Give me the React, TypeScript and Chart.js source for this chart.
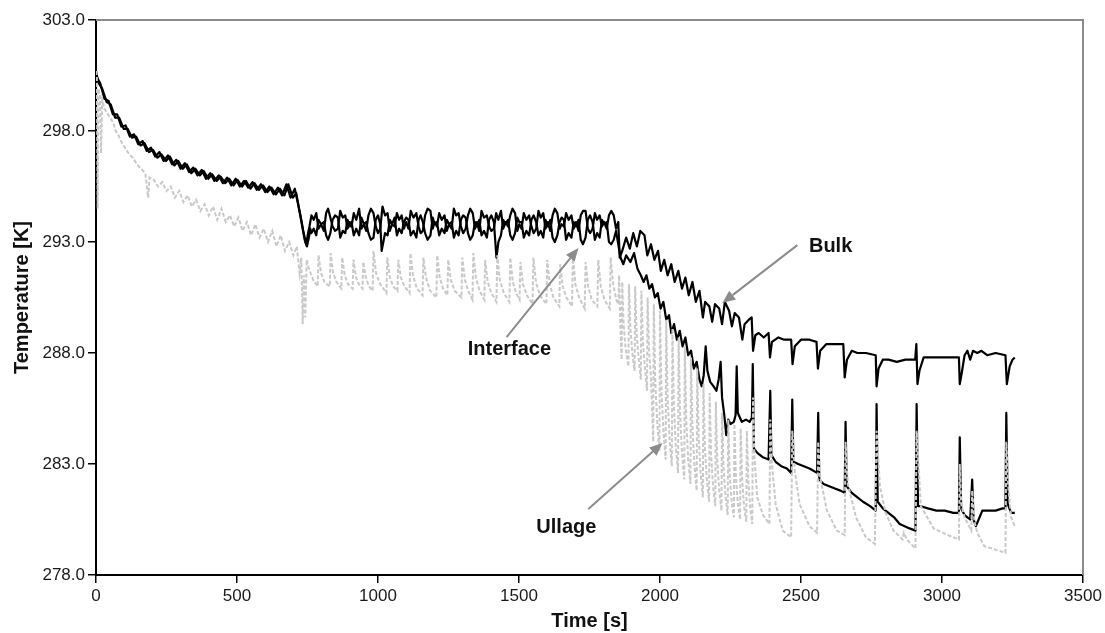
import React, { useEffect, useRef } from "react";
import { Chart, registerables } from "chart.js";

Chart.register(...registerables);

// Axis settings
const xTickStep = 500;
const xRange = [0, 3500];
const yTickStep = 5;
const yRange = [278, 303];

// [time s, temperature K]
const bulkData: [number, number][] = [
  [0,300.5],[15,300.15],[30,299.45],[45,299.35],[60,298.75],[75,298.75],[90,298.2],[105,298.25],[120,297.75],[135,297.85],
  [150,297.4],[165,297.55],[180,297.1],[195,297.25],[210,296.85],[225,297.05],[240,296.65],[255,296.9],[270,296.5],[285,296.7],
  [300,296.3],[315,296.55],[330,296.15],[345,296.35],[360,296.0],[375,296.25],[390,295.85],[405,296.1],[420,295.75],[435,296.0],
  [450,295.65],[465,295.9],[480,295.55],[495,295.85],[510,295.5],[525,295.75],[540,295.45],[555,295.7],[570,295.35],[585,295.6],
  [600,295.25],[615,295.5],[630,295.15],[645,295.45],[660,295.1],[675,295.6],[690,295.0],[705,295.4],[715,294.8],[725,294.2],
  [735,293.5],[745,292.9],[752,293.4],[757,293.7],
  [764,294.2],[772,294.0],[781,294.3],[789,293.6],[798,293.8],[808,293.5],[816,294.3],[823,294.5],[831,294.1],
  [839,293.7],[848,293.5],[858,293.6],[866,294.4],[875,294.1],[884,294.2],[892,293.6],[899,293.9],[906,293.7],
  [914,294.3],[923,294.0],[933,294.5],[941,293.6],[950,293.8],[958,293.5],[966,294.2],[975,294.5],[984,294.3],
  [992,293.7],[1000,293.4],[1008,293.6],[1016,294.6],[1025,294.2],[1034,294.3],[1042,293.5],[1050,293.8],[1059,293.7],
  [1067,294.3],[1075,294.0],[1084,294.2],[1092,293.6],[1100,293.9],[1108,293.6],[1116,294.4],[1126,294.1],[1136,294.3],
  [1144,293.7],[1151,293.4],[1159,293.5],[1167,294.2],[1176,294.5],[1186,294.4],[1194,293.6],[1201,293.9],[1209,293.7],
  [1217,294.3],[1226,294.0],[1236,294.2],[1244,293.5],[1252,293.8],[1261,293.6],[1269,294.5],[1277,294.2],[1286,294.3],
  [1294,293.7],[1302,293.4],[1311,293.6],[1319,294.2],[1327,294.5],[1336,294.3],[1344,293.6],[1351,293.9],[1359,293.5],
  [1367,294.4],[1376,294.1],[1386,294.2],[1394,293.7],[1402,293.5],[1411,293.6],[1419,294.3],[1427,294.0],[1436,294.4],
  [1444,293.6],[1452,293.9],[1461,293.7],[1469,294.2],[1477,294.5],[1486,294.3],[1494,293.5],[1501,293.8],[1509,293.6],
  [1517,294.3],[1526,294.0],[1536,294.2],[1544,293.7],[1552,293.4],[1561,293.6],[1569,294.4],[1577,294.1],[1586,294.3],
  [1594,293.6],[1602,293.9],[1611,293.5],[1619,294.2],[1627,294.5],[1636,294.3],[1644,293.6],[1651,293.8],[1659,293.7],
  [1667,294.3],[1676,294.0],[1686,294.2],[1694,293.6],[1702,293.9],[1711,293.5],[1719,294.2],[1727,294.4],[1736,294.4],
  [1744,293.6],[1752,293.4],[1761,293.6],[1769,294.3],[1777,294.0],[1786,294.2],[1794,293.7],[1802,293.9],[1811,293.6],
  [1819,294.2],[1827,294.4],[1836,294.2],[1844,293.6],
  [1852,293.9],[1857,292.3],[1866,292.6],[1880,293.2],[1893,292.7],[1905,293.4],[1918,292.8],[1930,293.5],[1945,293.3],[1955,292.4],
  [1968,292.9],[1980,292.2],[1993,292.6],[2003,291.7],[2015,292.2],[2027,291.5],[2040,292.0],[2052,291.2],[2065,291.7],[2078,290.9],
  [2090,291.4],[2102,290.6],[2115,291.2],[2127,290.3],[2140,290.8],[2152,289.6],[2160,290.3],[2175,290.1],[2185,289.4],[2195,290.2],
  [2210,290.0],[2220,289.3],[2230,290.3],[2245,289.9],[2255,289.2],[2265,289.8],[2280,289.6],[2292,288.6],[2300,289.3],[2315,289.5],
  [2325,289.6],[2330,288.1],[2338,288.8],[2350,288.9],[2368,288.7],[2385,288.9],[2390,287.8],[2397,288.5],[2420,288.7],[2440,288.6],
  [2465,288.6],[2470,287.5],[2478,288.3],[2500,288.6],[2530,288.6],[2555,288.5],[2560,287.3],[2568,288.1],[2590,288.4],[2620,288.4],
  [2650,288.4],[2655,286.9],[2663,287.7],[2680,288.1],[2700,288.0],[2730,288.0],[2765,287.9],[2768,286.5],[2775,287.3],[2790,287.7],
  [2810,287.7],[2840,287.6],[2870,287.7],[2905,287.7],[2909,288.4],[2913,286.6],[2920,287.2],[2935,287.8],[2970,287.8],[3000,287.8],
  [3040,287.8],[3060,287.8],[3063,286.6],[3070,287.1],[3080,287.9],[3090,288.1],[3100,287.7],[3110,288.1],[3125,288.0],[3140,288.1],
  [3160,287.9],[3190,288.0],[3225,287.9],[3230,286.6],[3240,287.4],[3250,287.7],[3258,287.8],
];

const interfaceData: [number, number][] = [
  [0,300.7],[8,300.2],[22,299.9],[38,299.3],[52,299.2],[68,298.6],[82,298.6],[98,298.1],[112,298.1],[128,297.7],
  [142,297.75],[158,297.35],[172,297.45],[188,297.05],[202,297.15],[218,296.8],[232,296.95],[248,296.65],[262,296.85],[278,296.45],
  [292,296.65],[308,296.3],[322,296.5],[338,296.1],[352,296.3],[368,296.0],[382,296.2],[398,295.85],[412,296.05],[428,295.75],
  [442,295.95],[458,295.65],[472,295.85],[488,295.55],[502,295.8],[518,295.5],[532,295.75],[548,295.4],[562,295.65],[578,295.35],
  [592,295.55],[608,295.25],[622,295.45],[638,295.15],[652,295.4],[668,295.1],[682,295.6],[698,295.0],[710,295.2],[720,294.5],
  [730,293.8],[740,293.1],[748,292.8],[755,293.2],[760,293.6],
  [764,293.4],[772,293.6],[781,293.3],[789,294.0],[798,293.8],[808,293.9],[816,293.3],[823,293.1],[831,293.4],
  [839,294.0],[848,294.2],[858,294.1],[866,293.2],[875,293.5],[884,293.4],[892,294.0],[899,293.7],[906,293.9],
  [914,293.3],[923,293.6],[933,293.3],[941,294.1],[950,293.8],[958,293.9],[966,293.4],[975,293.1],[984,293.2],
  [992,294.0],[1000,294.2],[1008,293.8],[1013,292.6],[1025,293.4],[1034,293.3],[1042,294.0],[1050,293.8],[1059,294.1],
  [1067,293.3],[1075,293.6],[1084,293.4],[1092,293.9],[1100,294.1],[1108,294.0],[1116,293.3],[1126,293.5],[1136,293.2],
  [1144,294.0],[1151,294.2],[1159,293.9],[1167,293.4],[1176,293.1],[1186,293.3],[1194,294.1],[1201,293.8],[1209,293.9],
  [1217,293.3],[1226,293.6],[1236,293.4],[1244,294.0],[1252,293.8],[1261,293.9],[1269,293.2],[1277,293.5],[1286,293.3],
  [1294,294.0],[1302,294.2],[1311,294.1],[1319,293.4],[1327,293.1],[1336,293.3],[1344,293.9],[1351,293.7],[1359,294.0],
  [1367,293.3],[1376,293.5],[1386,293.2],[1394,294.0],[1402,294.2],[1411,293.9],[1420,292.3],[1427,293.0],[1436,293.3],
  [1444,294.0],[1452,293.8],[1461,294.0],[1469,293.3],[1477,293.1],[1486,293.4],[1494,294.1],[1501,293.9],[1509,293.9],
  [1517,293.2],[1526,293.5],[1536,293.3],[1544,294.0],[1552,294.2],[1561,293.9],[1569,293.3],[1577,293.5],[1586,293.2],
  [1594,294.0],[1602,293.7],[1611,294.0],[1619,293.2],[1627,293.0],[1636,293.3],[1644,293.9],[1651,294.1],[1659,294.0],
  [1667,293.1],[1676,293.4],[1686,293.2],[1694,293.9],[1702,293.7],[1711,294.0],[1719,293.1],[1727,292.9],[1736,293.2],
  [1744,294.0],[1752,294.2],[1761,293.9],[1769,293.1],[1777,293.4],[1786,293.2],[1794,294.0],[1802,293.8],[1811,293.9],
  [1819,293.0],[1827,292.9],[1836,293.1],[1844,293.5],
  [1852,292.9],[1860,292.3],[1870,292.0],[1880,292.4],[1895,292.1],[1908,292.5],[1920,291.8],[1932,291.5],[1942,291.2],[1952,291.5],
  [1962,290.9],[1972,291.1],[1982,290.5],[1992,290.7],[2002,290.0],[2012,290.3],[2022,289.5],[2032,289.7],[2040,288.9],[2050,289.3],
  [2060,288.6],[2070,289.0],[2080,288.3],[2090,288.7],[2100,287.9],[2110,288.1],[2120,287.3],[2130,287.6],[2140,286.8],[2148,286.5],
  [2155,287.0],[2162,288.3],[2168,287.2],[2178,286.7],[2190,286.5],[2200,286.3],[2208,286.8],[2215,287.6],[2220,286.0],[2228,285.2],
  [2235,284.3],[2242,285.0],[2250,284.8],[2262,284.9],[2268,285.2],[2272,287.4],[2276,285.3],[2290,284.9],[2305,285.0],[2318,284.9],
  [2326,285.1],[2329,287.5],[2333,283.7],[2345,283.5],[2365,283.3],[2385,283.2],[2391,286.3],[2395,283.4],[2410,283.1],[2430,282.9],
  [2450,282.8],[2465,282.6],[2469,285.9],[2473,283.1],[2490,283.0],[2510,282.9],[2530,282.8],[2557,282.6],[2561,285.3],[2565,282.3],
  [2580,282.1],[2600,282.0],[2620,281.9],[2640,281.8],[2655,281.7],[2658,284.9],[2662,282.0],[2680,281.7],[2700,281.5],[2720,281.3],
  [2745,281.1],[2765,280.9],[2768,285.7],[2772,281.3],[2790,281.0],[2810,280.8],[2830,280.6],[2850,280.3],[2885,280.1],[2906,280.0],
  [2910,285.7],[2915,281.1],[2925,281.1],[2950,281.0],[2980,280.9],[3010,280.9],[3040,280.8],[3060,280.8],[3063,284.2],[3068,281.0],
  [3080,280.7],[3090,280.6],[3100,280.5],[3107,282.3],[3112,280.5],[3120,280.2],[3130,280.5],[3143,280.9],[3160,280.9],[3190,280.9],
  [3215,281.0],[3225,281.0],[3228,285.3],[3233,281.2],[3245,280.8],[3258,280.8],
];

const ullageData: [number, number][] = [
  [0,300.7],[3,300.4],[6,294.5],[9,299.9],[14,299.6],[18,297.0],[22,299.4],[30,299.0],[40,298.8],[50,298.6],
  [60,298.4],[70,298.0],[80,297.8],[90,297.5],[100,297.3],[115,297.0],[130,296.8],[145,296.5],[160,296.3],[175,296.1],
  [185,295.0],[190,295.9],[205,295.8],[220,295.5],[235,295.7],[250,295.3],[265,295.5],[280,295.0],[295,295.3],[310,294.8],
  [325,295.1],[340,294.6],[355,294.9],[370,294.4],[385,294.7],[400,294.2],[415,294.6],[430,294.0],[445,294.5],[460,293.9],
  [475,294.2],[490,293.7],[505,294.1],[520,293.5],[535,293.9],[550,293.3],[565,293.8],[580,293.2],[595,293.6],[610,293.0],
  [625,293.5],[640,292.8],[655,293.3],[670,292.6],[685,293.0],[700,292.4],[712,292.8],[722,291.6],[728,292.3],[733,289.3],
  [737,291.5],[742,289.6],[747,292.2],
  [755,291.8],[770,291.3],[786,291.0],[789,292.4],[798,291.6],[810,291.2],[829,291.0],[832,292.5],[841,291.6],[853,291.2],
  [870,290.9],[873,292.3],[882,291.5],[894,291.1],[910,290.9],[913,292.2],[922,291.4],[932,291.1],[945,290.9],[948,292.1],
  [957,291.4],[968,291.0],[981,290.8],[984,292.6],[993,291.6],[1008,291.1],[1030,290.7],[1033,292.3],[1042,291.4],[1054,291.0],
  [1069,290.8],[1072,292.2],[1081,291.4],[1094,291.0],[1112,290.7],[1115,292.5],[1124,291.5],[1138,290.9],[1158,290.6],[1161,292.3],
  [1170,291.4],[1185,290.8],[1207,290.5],[1210,292.4],[1219,291.4],[1231,290.9],[1246,290.6],[1249,292.2],[1258,291.3],[1272,290.8],
  [1296,290.5],[1299,292.3],[1308,291.3],[1320,290.8],[1335,290.4],[1338,292.5],[1347,291.4],[1360,290.8],[1377,290.4],[1380,292.2],
  [1389,291.2],[1402,290.7],[1420,290.3],[1423,292.4],[1432,291.3],[1446,290.7],[1466,290.3],[1469,292.3],[1478,291.2],[1490,290.7],
  [1502,290.4],[1505,292.1],[1514,291.1],[1528,290.6],[1548,290.2],[1551,292.3],[1560,291.2],[1574,290.6],[1597,290.2],[1600,292.2],
  [1609,291.1],[1622,290.5],[1643,290.1],[1646,292.0],[1655,291.0],[1668,290.5],[1688,290.1],[1691,292.4],[1700,291.1],[1713,290.5],
  [1733,290.0],[1736,292.1],[1745,291.0],[1758,290.4],[1778,290.1],[1781,292.2],[1790,291.0],[1803,290.4],[1822,290.0],[1825,292.3],
  [1834,291.1],[1845,290.4],[1852,290.2],[1855,291.5],[1860,289.0],[1864,287.7],
  [1866,291.2],[1871,289.3],[1878,288.2],[1888,287.4],[1890,291.1],[1895,289.1],[1902,288.0],[1910,287.2],[1912,291.0],[1917,288.9],
  [1924,287.8],[1932,286.8],[1934,290.8],[1939,288.6],[1946,287.4],[1954,286.3],[1956,290.5],[1961,288.2],[1968,286.9],[1976,284.0],
  [1978,290.2],[1983,286.8],[1990,284.9],[1998,283.6],[2000,289.9],[2005,286.4],[2012,284.5],[2020,283.2],[2022,289.5],[2027,286.0],
  [2034,284.1],[2042,282.9],[2044,289.1],[2049,285.7],[2056,283.8],[2064,282.6],[2066,288.7],[2071,285.3],[2078,283.5],[2086,282.3],
  [2088,288.3],[2093,285.0],[2100,283.2],[2108,282.1],[2110,287.8],[2115,284.7],[2122,282.9],[2130,281.8],[2132,287.3],[2137,284.3],
  [2144,282.6],[2152,281.5],[2154,286.6],[2159,283.8],[2166,282.3],[2174,281.3],[2176,286.2],[2181,283.5],[2188,282.0],[2196,281.1],
  [2198,285.8],[2203,283.2],[2210,281.8],[2218,280.9],[2220,285.3],[2225,282.9],[2232,281.6],[2240,280.7],[2242,285.0],[2247,282.6],
  [2254,281.3],[2262,280.6],[2264,284.8],[2269,282.5],[2276,281.2],[2284,280.5],[2286,284.6],[2291,282.4],[2298,281.1],[2306,280.4],
  [2308,284.5],[2313,282.3],[2320,281.0],[2327,280.3],[2330,286.0],[2335,283.3],[2345,281.5],[2365,280.7],[2388,280.3],[2391,285.0],
  [2397,283.0],[2410,281.2],[2435,280.0],[2465,279.7],[2469,284.5],[2478,282.7],[2495,281.2],[2530,280.2],[2557,279.9],[2561,284.0],
  [2568,282.4],[2592,280.9],[2627,280.0],[2655,279.8],[2658,284.0],[2666,282.1],[2695,280.6],[2730,279.7],[2762,279.4],[2768,284.5],
  [2780,282.0],[2800,280.8],[2828,280.0],[2860,279.6],[2865,279.9],[2875,279.6],[2906,279.2],[2910,284.5],[2925,281.1],[2970,280.1],
  [3020,279.8],[3060,279.6],[3063,283.0],[3068,281.2],[3080,280.6],[3104,280.0],[3107,281.8],[3115,280.4],[3125,279.9],[3150,279.3],
  [3200,279.1],[3225,279.0],[3228,284.0],[3235,282.0],[3245,280.6],[3258,280.2],
];

// Annotation labels: text baseline position, arrow tail, arrow head (data coords)
const annotationLabels = ["Bulk", "Interface", "Ullage"];
const annotationText: [number, number][] = [[2605, 292.55], [1466, 287.91], [1668, 279.89]];
const annotationTail: [number, number][] = [[2487, 292.86], [1456, 288.72], [1746, 280.97]];
const annotationHead: [number, number][] = [[2221, 290.25], [1711, 292.73], [2009, 283.95]];

const FONT = "'Liberation Sans', Arial, Helvetica, sans-serif";

const frameAndNotes = {
  id: "frameAndNotes",
  afterDatasetsDraw(chart: any) {
    const { ctx, chartArea, scales } = chart;
    ctx.save();
    // gray top and right frame
    ctx.strokeStyle = "#8c8c8c";
    ctx.lineWidth = 2;
    ctx.beginPath();
    ctx.moveTo(chartArea.left, chartArea.top);
    ctx.lineTo(chartArea.right, chartArea.top);
    ctx.lineTo(chartArea.right, chartArea.bottom);
    ctx.stroke();

    annotationLabels.forEach((label, i) => {
      const tx = scales.x.getPixelForValue(annotationTail[i][0]);
      const ty = scales.y.getPixelForValue(annotationTail[i][1]);
      const hx = scales.x.getPixelForValue(annotationHead[i][0]);
      const hy = scales.y.getPixelForValue(annotationHead[i][1]);
      const ang = Math.atan2(hy - ty, hx - tx);
      const headLen = 13;
      const headHalf = 5.5;
      const bx = hx - headLen * Math.cos(ang);
      const by = hy - headLen * Math.sin(ang);
      ctx.strokeStyle = "#8c8c8c";
      ctx.fillStyle = "#8c8c8c";
      ctx.lineWidth = 2;
      ctx.beginPath();
      ctx.moveTo(tx, ty);
      ctx.lineTo(bx, by);
      ctx.stroke();
      ctx.beginPath();
      ctx.moveTo(hx, hy);
      ctx.lineTo(bx + headHalf * Math.sin(ang), by - headHalf * Math.cos(ang));
      ctx.lineTo(bx - headHalf * Math.sin(ang), by + headHalf * Math.cos(ang));
      ctx.closePath();
      ctx.fill();

      const px = scales.x.getPixelForValue(annotationText[i][0]);
      const py = scales.y.getPixelForValue(annotationText[i][1]);
      ctx.fillStyle = "#111111";
      ctx.font = `bold 20px ${FONT}`;
      ctx.textAlign = "center";
      ctx.textBaseline = "alphabetic";
      ctx.fillText(label, px, py);
    });
    ctx.restore();
  },
};

export default function App() {
  const canvasRef = useRef<HTMLCanvasElement | null>(null);

  useEffect(() => {
    const canvas = canvasRef.current;
    if (!canvas) return;
    const toPts = (arr: [number, number][]) => arr.map(([x, y]) => ({ x, y }));
    const tickFont = { family: FONT, size: 17 };
    const titleFont = { family: FONT, size: 20, weight: "bold" as const };

    const chart = new Chart(canvas, {
      type: "line",
      data: {
        datasets: [
          {
            label: "Ullage",
            data: toPts(ullageData),
            borderColor: "#c9c9c9",
            borderWidth: 2,
            borderDash: [4, 2],
            pointRadius: 0,
            tension: 0,
            order: 0,
          },
          {
            label: "Interface",
            data: toPts(interfaceData),
            borderColor: "#000000",
            borderWidth: 2.2,
            borderJoinStyle: "round",
            pointRadius: 0,
            tension: 0,
            order: 1,
          },
          {
            label: "Bulk",
            data: toPts(bulkData),
            borderColor: "#000000",
            borderWidth: 2.2,
            borderJoinStyle: "round",
            pointRadius: 0,
            tension: 0,
            order: 2,
          },
        ],
      },
      options: {
        animation: false,
        responsive: false,
        devicePixelRatio: 1,
        layout: { padding: { top: 20, right: 22, left: 0, bottom: 0 } },
        plugins: { legend: { display: false }, tooltip: { enabled: false } },
        scales: {
          x: {
            type: "linear",
            min: xRange[0],
            max: xRange[1],
            ticks: {
              stepSize: xTickStep,
              font: tickFont,
              color: "#1a1a1a",
              padding: 3,
              maxRotation: 0,
              callback: (v: any) => String(v),
            },
            grid: { drawOnChartArea: false, drawTicks: true, tickLength: 8, color: "#000", lineWidth: 1.5 },
            border: { display: true, color: "#000", width: 2 },
            title: { display: true, text: "Time [s]", font: titleFont, color: "#111", padding: { top: 0, bottom: 0 } },
            afterFit: (s: any) => { s.height = 58; },
          },
          y: {
            type: "linear",
            min: yRange[0],
            max: yRange[1],
            ticks: {
              stepSize: yTickStep,
              font: tickFont,
              color: "#1a1a1a",
              padding: 3,
              callback: (v: any) => Number(v).toFixed(1),
            },
            grid: { drawOnChartArea: false, drawTicks: true, tickLength: 8, color: "#000", lineWidth: 1.5 },
            border: { display: true, color: "#000", width: 2 },
            title: { display: true, text: "Temperature [K]", font: titleFont, color: "#111", padding: { top: 10, bottom: 0 } },
            afterFit: (s: any) => { s.width = 96; },
          },
        },
      },
      plugins: [frameAndNotes],
    });
    return () => chart.destroy();
  }, []);

  return (
    <div style={{ position: "fixed", left: 0, top: 0, width: 1105, height: 633, background: "#fff" }}>
      <canvas ref={canvasRef} width={1105} height={633} />
    </div>
  );
}
